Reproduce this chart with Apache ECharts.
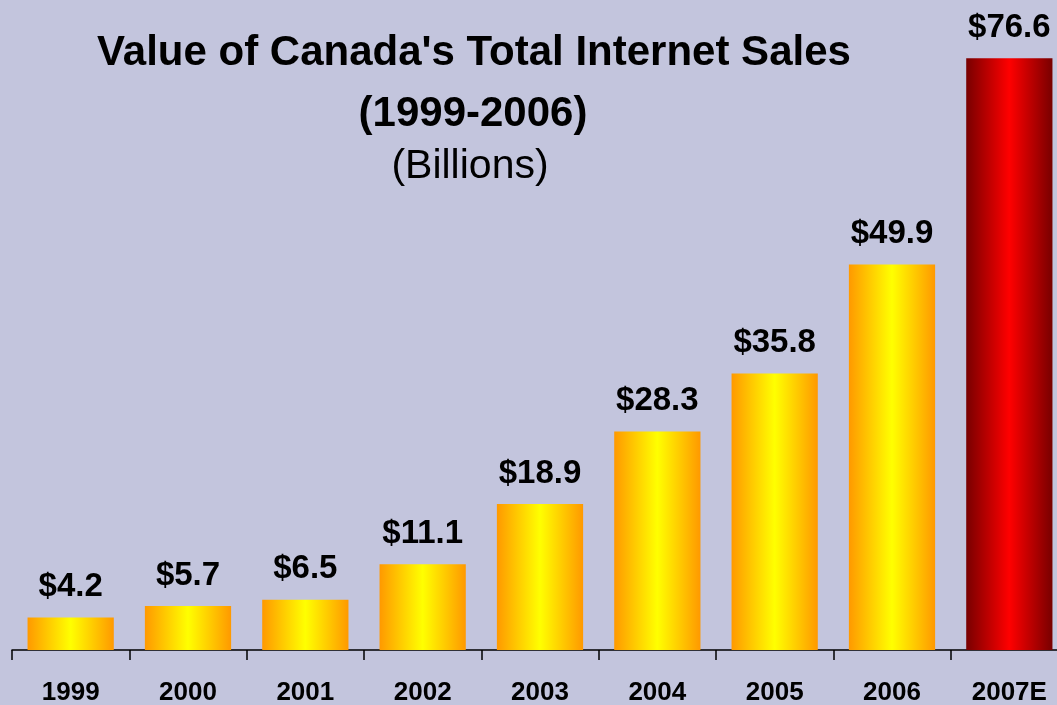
<!DOCTYPE html>
<html>
<head>
<meta charset="utf-8">
<title>Value of Canada's Total Internet Sales</title>
<script src="https://cdn.jsdelivr.net/npm/echarts@6/dist/echarts.min.js"></script>
<style>
  html, body { margin: 0; padding: 0; background: #c3c5dd; overflow: hidden; }
  /* the plot runs slightly past the right edge of the window */
  #chart { width: 1080px; height: 705px; }
</style>
</head>
<body>
<div id="chart"></div>
<script>
// Internet sales in Canada, billions of dollars (2007 is an estimate)
const years = ['1999', '2000', '2001', '2002', '2003', '2004', '2005', '2006', '2007E'];
const sales = [4.2, 5.7, 6.5, 11.1, 18.9, 28.3, 35.8, 49.9, 76.6];
const estimatedIndex = 8;

const FONT = '"Liberation Sans", Arial, Helvetica, sans-serif';

function barGradient(edge, centre) {
  return new echarts.graphic.LinearGradient(0, 0, 1, 0, [
    { offset: 0, color: edge },
    { offset: 0.5, color: centre },
    { offset: 1, color: edge }
  ]);
}

const barData = sales.map((v, i) => ({
  value: v,
  itemStyle: {
    color: i === estimatedIndex
      ? barGradient('#780000', '#ff0000')
      : barGradient('#ff9900', '#ffff00')
  }
}));

const chart = echarts.init(document.getElementById('chart'), null, { renderer: 'canvas' });

chart.setOption({
  backgroundColor: '#c3c5dd',
  animation: false,
  graphic: [
    { type: 'text', x: 474, y: 53, style: { text: "Value of Canada's Total Internet Sales", font: 'bold 42px ' + FONT, fill: '#000', align: 'center', verticalAlign: 'middle' } },
    { type: 'text', x: 473, y: 114, style: { text: '(1999-2006)', font: 'bold 42px ' + FONT, fill: '#000', align: 'center', verticalAlign: 'middle' } },
    { type: 'text', x: 470, y: 167, style: { text: '(Billions)', font: '41px ' + FONT, fill: '#000', align: 'center', verticalAlign: 'middle' } }
  ],
  grid: { left: 12, top: 32, width: 1056, height: 618, containLabel: false, outerBoundsMode: 'none' },
  xAxis: {
    type: 'category',
    data: years,
    boundaryGap: true,
    axisLine: { show: true, lineStyle: { color: '#000', width: 1.5 } },
    axisTick: { show: true, inside: false, length: 10, alignWithLabel: false, lineStyle: { color: '#000', width: 1.5 } },
    axisLabel: {
      color: '#000',
      fontFamily: FONT,
      fontWeight: 'bold',
      fontSize: 26,
      margin: 30,
      interval: 0
    },
    splitLine: { show: false }
  },
  yAxis: {
    type: 'value',
    min: 0,
    max: 80,
    show: false,
    splitLine: { show: false }
  },
  series: [{
    type: 'bar',
    data: barData,
    barCategoryGap: '26.5%',
    label: {
      show: true,
      position: 'top',
      distance: 14,
      color: '#000',
      fontFamily: FONT,
      fontWeight: 'bold',
      fontSize: 33,
      formatter: p => '$' + p.value.toFixed(1)
    }
  }]
});
</script>
</body>
</html>
